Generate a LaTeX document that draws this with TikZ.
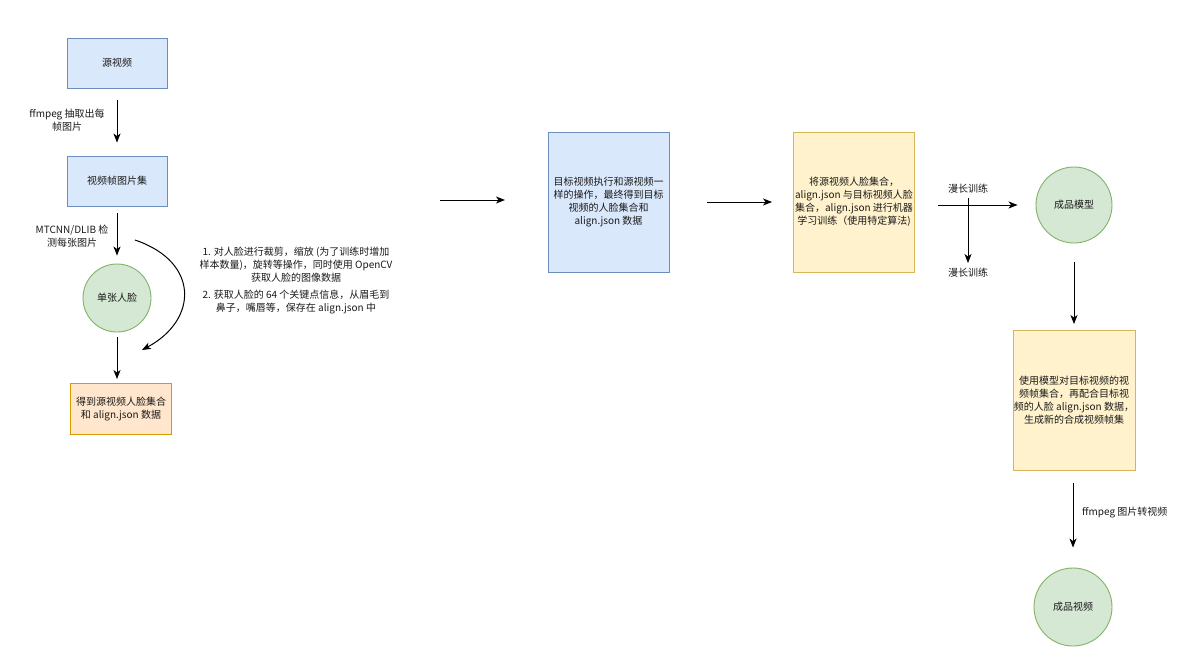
\documentclass[tikz,border=0pt]{standalone}
\usepackage{fontspec}
\setmainfont{Noto Sans CJK SC}
\usetikzlibrary{arrows.meta}
\definecolor{bluefill}{HTML}{DAE8FC}
\definecolor{blueline}{HTML}{6C8EBF}
\definecolor{greenfill}{HTML}{D5E8D4}
\definecolor{greenline}{HTML}{82B366}
\definecolor{orangefill}{HTML}{FFE6CC}
\definecolor{orangeline}{HTML}{D79B00}
\definecolor{yellowfill}{HTML}{FFF2CC}
\definecolor{yellowline}{HTML}{D6B656}
\definecolor{txt}{HTML}{1A1A1A}
\tikzset{
  base/.style={font=\fontsize{10}{13}\selectfont, text=txt, align=center, inner sep=1pt},
  bluebox/.style={base, draw=blueline, fill=bluefill, line width=0.9pt, rectangle},
  yellowbox/.style={base, draw=yellowline, fill=yellowfill, line width=0.9pt, rectangle},
  orangebox/.style={base, draw=orangeline, fill=orangefill, line width=0.9pt, rectangle},
  greencirc/.style={base, draw=greenline, fill=greenfill, line width=0.9pt, circle},
  lbl/.style={base},
  arr/.style={draw=black, line width=1pt, -{Stealth[length=9pt,width=7pt,inset=2.5pt]}},
}
\begin{document}
\begin{tikzpicture}[x=1pt,y=-1pt]
\useasboundingbox (0,0) rectangle (1200,672);
\fill[white] (0,0) rectangle (1200,672);

% left column
\node[bluebox, minimum width=100pt, minimum height=50pt] (src) at (117,63) {源视频};
\node[bluebox, minimum width=100pt, minimum height=50pt] (frames) at (117,181) {视频帧图片集};
\node[greencirc, minimum size=68pt] (face) at (117,298) {单张人脸};
\node[orangebox, minimum width=101pt, minimum height=51pt] (srcset) at (121,409) {得到源视频人脸集合\\和 align.json 数据};

\node[lbl] (l1) at (67,120) {ffmpeg 抽取出每\\帧图片};
\node[lbl] (l2) at (72,236) {MTCNN/DLIB 检\\测每张图片};

\draw[arr, shorten <=12pt, shorten >=13pt] (src.south) -- (frames.north);
\draw[arr, shorten <=7pt, shorten >=8pt] (frames.south) -- (face.north);
\draw[arr, shorten <=5pt, shorten >=4pt] (face.south) -- (face.south |- srcset.north);

\coordinate (c1) at (135,240);
\coordinate (c2) at (142,350);
\draw[arr] (c1) .. controls (200,262) and (198,320) .. (c2);

\node[lbl] (note) at (296,281) {1. 对人脸进行裁剪，缩放 (为了训练时增加\\样本数量)，旋转等操作，同时使用 OpenCV\\获取人脸的图像数据\\[4pt]2. 获取人脸的 64 个关键点信息，从眉毛到\\鼻子，嘴唇等，保存在 align.json 中};

\coordinate (h1) at (440,200);
\coordinate (h2) at (505,200);
\draw[arr] (h1) -- (h2);

% middle
\node[bluebox, minimum width=121pt, minimum height=140pt] (tgt) at (608.5,202) {目标视频执行和源视频一\\样的操作，最终得到目标\\视频的人脸集合和\\align.json 数据};
\node[yellowbox, minimum width=121pt, minimum height=140pt] (train) at (854,202) {将源视频人脸集合，\\align.json 与目标视频人脸\\集合，align.json 进行机器\\学习训练（使用特定算法)};

\draw[arr, shorten <=38pt, shorten >=21pt] (tgt.east) -- (train.west);

% right
\node[greencirc, minimum size=76pt] (model) at (1074,205) {成品模型};
\draw[arr, shorten <=23.5pt, shorten >=18pt] (train.east |- model.west) -- (model.west);
\node[lbl] (t1) at (968,189) {漫长训练};
\coordinate (v1) at (968,198);
\coordinate (v2) at (968,263);
\draw[arr] (v1) -- (v2);
\node[lbl] (t2) at (968,273) {漫长训练};

\node[yellowbox, minimum width=121pt, minimum height=140pt] (synth) at (1074,400.5) {使用模型对目标视频的视\\频帧集合，再配合目标视\\频的人脸 align.json 数据，\\生成新的合成视频帧集};
\draw[arr, shorten <=19pt, shorten >=6pt] (model.south) -- (synth.north);

\node[greencirc, minimum size=78pt] (video) at (1073,607) {成品视频};
\draw[arr, shorten <=12pt, shorten >=20pt] (synth.south -| video) -- (video.north);
\node[lbl, anchor=west] (l3) at (1081,513) {ffmpeg 图片转视频};
\end{tikzpicture}
\end{document}
